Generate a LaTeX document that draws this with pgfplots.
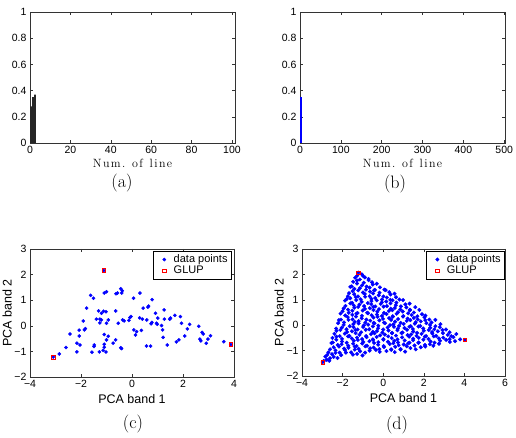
\documentclass[border=0pt]{standalone}
\usepackage{fontspec}
\usepackage{pgfplots}
\pgfplotsset{compat=1.18}
\newfontfamily\hv{Liberation Sans}
\newcommand{\ticksize}{\hv\fontsize{10.5}{12}\selectfont}
\newcommand{\ls}{\kern1.4pt}
\pgfplotsset{
 mat/.style={scale only axis, anchor=south west,
   axis line style={black!80,line width=0.8pt},
   tick style={black!80,line width=0.5pt}, major tick length=3pt,
   tick align=inside, tick pos=both,
   tick label style={font=\ticksize},
   /pgf/number format/assume math mode=true},
 pca/.style={mat, label style={font=\hv\fontsize{12.5}{14}\selectfont},
   xlabel={PCA band 1}, ylabel={PCA band 2}, ylabel shift=-4pt,
   ymin=-2, ymax=3, ytick={-2,-1,0,1,2,3}, yticklabels={−2,−1,0,1,2,3},
   legend cell align=left,
   legend image code/.code={\path (0cm,0cm) (0.55cm,0cm);
     \draw[##1] plot coordinates {(0.3cm,0cm)};},
   legend style={at={(rel axis cs:0.99,0.985)}, anchor=north east,
     font=\hv\fontsize{11}{13}\selectfont, draw=black, line width=0.8pt,
     inner xsep=2pt, inner ysep=1.5pt, row sep=-2pt}},
 bars/.style={mat, ymin=0, ymax=1, ytick={0,0.2,0.4,0.6,0.8,1},
   yticklabels={0,0.2,0.4,0.6,0.8,1},
   xlabel={N\ls u\ls m\ls .\ls\ \ls o\ls f\ls\ \ls l\ls i\ls n\ls e},
   xlabel style={font=\fontsize{12}{14}\selectfont, yshift=2pt}},
}
\begin{document}
\begin{tikzpicture}[x=1pt,y=1pt]
\useasboundingbox (0,0) rectangle (516,438);
% (a)
\begin{axis}[bars, at={(30pt,295pt)}, width=205pt, height=131pt,
  xmin=0, xmax=101.5, xtick={0,20,40,60,80,100}]
\addplot[ybar, bar width=0.82, fill=black!85, draw=none]
  coordinates {(0.5,0.28) (1.5,0.35) (2.5,0.37)};
\end{axis}
% (b)
\begin{axis}[bars, at={(300pt,295pt)}, width=205pt, height=131pt,
  xmin=0, xmax=502, xtick={0,100,200,300,400,500}]
\addplot[ybar, bar width=1, fill=blue, draw=blue, line width=0.5pt]
  coordinates {(1,0.35) (2,0.35) (3,0.35)};
\end{axis}
% (c)
\begin{axis}[pca, at={(30pt,61pt)}, width=204pt, height=128pt,
  xmin=-4, xmax=4, xtick={-4,-2,0,2,4}, xticklabels={−4,−2,0,2,4}]
\addplot[only marks, mark=*, mark size=1.6pt, blue, line width=0.4pt] coordinates {
(-3.09,-1.22) (-1.11,2.16) (3.87,-0.73)
(-2.85,-1.10) (-2.59,-0.85) (-2.43,-0.32) (-2.16,-1.02) (-2.16,-0.68)
(-2.04,-0.75) (-2.07,-0.40) (-2.07,-0.17) (-1.87,-0.16) (-1.83,-0.11)
(-1.91,0.19) (-1.78,0.69) (-1.62,1.19) (-1.51,1.08) (-1.57,-1.03)
(-1.49,-0.81) (-1.48,-0.75) (-1.28,-1.02) (-1.40,0.26) (-1.31,0.58)
(-1.26,0.26) (-1.26,0.11) (-1.20,0.23) (-1.20,0.49) (-1.12,0.57)
(-1.02,0.55) (-1.09,1.28) (-1.00,1.33) (-1.13,-0.96) (-1.02,-1.02)
(-1.09,-0.72) (-1.09,-0.84) (-1.09,-0.34) (-1.00,-0.55) (-0.93,-0.41)
(-0.93,0.23) (-1.00,0.10) (-0.74,-0.68) (-0.64,-0.55) (-0.64,0.58)
(-0.63,1.25) (-0.57,1.28) (-0.54,0.10) (-0.44,1.45) (-0.38,1.37)
(-0.40,1.28) (-0.37,0.23) (-0.44,-0.86) (-0.41,-0.89) (-0.31,0.19)
(-0.12,0.21) (-0.04,0.36) (-0.08,0.32) (0.06,1.08) (0.07,-0.16)
(0.14,-0.36) (0.18,-0.23) (0.30,0.31) (0.31,1.28) (0.37,-0.18)
(0.44,0.69) (0.41,0.26) (0.58,0.23) (0.57,-0.79) (0.73,-0.79)
(0.62,0.73) (0.65,0.77) (0.79,1.02) (0.75,0.08) (0.78,0.13)
(0.92,0.49) (0.96,0.10) (1.01,0.30) (0.99,0.06) (1.16,0.01)
(1.20,-0.16) (1.22,-0.45) (1.26,0.62) (1.27,0.26) (1.38,-0.75)
(1.48,0.26) (1.51,0.30) (1.68,0.41) (1.74,-0.63) (1.84,-0.55)
(1.90,0.36) (1.94,0.10) (2.07,-0.40) (2.17,-0.12) (2.26,0.06)
(2.62,-0.02) (2.66,-0.52) (2.70,-0.59) (2.75,-0.26) (2.79,-0.32)
(2.91,-0.68) (2.98,-0.52) (3.08,-0.39) (3.60,-0.62)
};
\addlegendentry{data points}
\addplot[only marks, mark=square, mark size=1.8pt, red, line width=0.6pt]
  coordinates {(-3.09,-1.22) (-1.11,2.16) (3.87,-0.73)};
\addlegendentry{GLUP}
\end{axis}
% (d)
\begin{axis}[pca, at={(302pt,62pt)}, width=203pt, height=127pt,
  xmin=-4, xmax=6, xtick={-4,-2,0,2,4,6}, xticklabels={−4,−2,0,2,4,6},
  legend style={at={(rel axis cs:1,0.985)}}]
\addplot[only marks, mark=*, mark size=1.8pt, blue, line width=0.4pt] coordinates {
(-2.98,-1.45) (-1.22,2.07) (4.02,-0.58)
(-2.93,-1.41) (-2.78,-1.36) (-2.66,-1.40)
(-2.85,-1.24) (-2.62,-1.30) (-2.44,-1.25) (-2.25,-1.29)
(-2.76,-1.17) (-2.52,-1.14) (-2.35,-1.09) (-2.07,-1.18) (-1.84,-1.08) (-1.49,-1.16) (-1.29,-1.13) (-1.02,-1.19)
(-2.70,-1.07) (-2.35,-0.99) (-2.15,-1.08) (-1.88,-0.98) (-1.58,-1.07) (-1.40,-0.96) (-1.14,-1.03) (-0.89,-1.08) (-0.67,-1.00) (-0.36,-0.97) (-0.17,-1.05) (0.16,-1.02) (0.40,-0.97) (0.57,-1.06) (0.85,-0.96) (1.08,-1.04)
(-2.62,-0.95) (-2.44,-0.87) (-2.18,-0.84) (-1.93,-0.92) (-1.71,-0.89) (-1.40,-0.84) (-1.21,-0.93) (-0.88,-0.83) (-0.64,-0.91) (-0.47,-0.88) (-0.19,-0.94) (0.04,-0.86) (0.39,-0.95) (0.59,-0.85) (0.86,-0.94) (1.16,-0.83) (1.34,-0.90) (1.60,-0.95) (1.85,-0.87) (2.07,-0.84)
(-2.55,-0.70) (-2.24,-0.78) (-2.05,-0.75) (-1.72,-0.81) (-1.48,-0.73) (-1.31,-0.82) (-1.03,-0.72) (-0.80,-0.81) (-0.45,-0.70) (-0.25,-0.77) (0.02,-0.82) (0.32,-0.74) (0.50,-0.71) (0.76,-0.79) (1.01,-0.76) (1.23,-0.71) (1.54,-0.80) (1.73,-0.70) (2.06,-0.78) (2.30,-0.75) (2.47,-0.81) (2.75,-0.73)
(-2.48,-0.68) (-2.31,-0.57) (-2.03,-0.64) (-1.80,-0.69) (-1.45,-0.61) (-1.25,-0.58) (-0.98,-0.66) (-0.68,-0.63) (-0.50,-0.58) (-0.24,-0.67) (0.01,-0.57) (0.23,-0.65) (0.54,-0.62) (0.73,-0.68) (1.06,-0.60) (1.30,-0.69) (1.47,-0.59) (1.75,-0.68) (1.98,-0.57) (2.33,-0.64) (2.53,-0.69) (2.80,-0.61) (3.10,-0.58) (3.28,-0.66) (3.54,-0.63)
(-2.50,-0.50) (-2.30,-0.45) (-2.03,-0.54) (-1.73,-0.44) (-1.55,-0.52) (-1.29,-0.49) (-1.04,-0.55) (-0.82,-0.47) (-0.51,-0.56) (-0.32,-0.46) (0.01,-0.55) (0.25,-0.44) (0.42,-0.51) (0.70,-0.56) (0.93,-0.48) (1.28,-0.45) (1.48,-0.53) (1.75,-0.50) (2.05,-0.45) (2.23,-0.54) (2.49,-0.44) (2.74,-0.52) (2.96,-0.49) (3.27,-0.55) (3.46,-0.47) (3.79,-0.56)
(-2.40,-0.34) (-2.14,-0.43) (-1.89,-0.33) (-1.67,-0.42) (-1.36,-0.31) (-1.17,-0.38) (-0.84,-0.43) (-0.60,-0.35) (-0.43,-0.32) (-0.15,-0.40) (0.08,-0.37) (0.43,-0.32) (0.63,-0.41) (0.90,-0.31) (1.20,-0.39) (1.38,-0.36) (1.64,-0.42) (1.89,-0.34) (2.11,-0.43) (2.42,-0.33) (2.61,-0.42) (2.94,-0.31) (3.18,-0.38) (3.35,-0.43) (3.60,-0.35)
(-2.30,-0.22) (-2.11,-0.19) (-1.78,-0.27) (-1.54,-0.24) (-1.37,-0.19) (-1.09,-0.28) (-0.86,-0.18) (-0.51,-0.26) (-0.31,-0.23) (-0.04,-0.29) (0.26,-0.21) (0.44,-0.30) (0.70,-0.20) (0.95,-0.29) (1.17,-0.18) (1.48,-0.25) (1.67,-0.30) (2.00,-0.22) (2.24,-0.19) (2.41,-0.27) (2.69,-0.24) (2.92,-0.19) (3.27,-0.28)
(-2.32,-0.13) (-2.04,-0.10) (-1.81,-0.16) (-1.46,-0.08) (-1.26,-0.17) (-0.99,-0.07) (-0.69,-0.16) (-0.51,-0.05) (-0.25,-0.12) (0.00,-0.17) (0.22,-0.09) (0.53,-0.06) (0.72,-0.14) (1.05,-0.11) (1.29,-0.06) (1.46,-0.15) (1.74,-0.05) (1.97,-0.13) (2.32,-0.10) (2.52,-0.16) (2.79,-0.08) (3.09,-0.17)
(-2.22,0.08) (-1.95,0.01) (-1.65,-0.04) (-1.47,0.04) (-1.21,0.07) (-0.96,-0.01) (-0.74,0.02) (-0.43,0.07) (-0.24,-0.02) (0.09,0.08) (0.33,0.00) (0.50,0.03) (0.78,-0.03) (1.01,0.05) (1.36,-0.04) (1.56,0.06) (1.83,-0.03) (2.13,0.08) (2.31,0.01) (2.57,-0.04) (2.82,0.04)
(-2.18,0.20) (-1.93,0.11) (-1.71,0.21) (-1.40,0.13) (-1.21,0.16) (-0.88,0.10) (-0.64,0.18) (-0.47,0.09) (-0.19,0.19) (0.04,0.10) (0.39,0.21) (0.59,0.14) (0.86,0.09) (1.16,0.17) (1.34,0.20) (1.60,0.12) (1.85,0.15) (2.07,0.20) (2.38,0.11) (2.57,0.21)
(-2.08,0.22) (-1.75,0.32) (-1.51,0.23) (-1.34,0.34) (-1.06,0.27) (-0.83,0.22) (-0.48,0.30) (-0.28,0.33) (-0.01,0.25) (0.29,0.28) (0.47,0.33) (0.73,0.24) (0.98,0.34) (1.20,0.26) (1.51,0.29) (1.70,0.23) (2.03,0.31) (2.27,0.22)
(-2.10,0.46) (-1.87,0.38) (-1.52,0.41) (-1.32,0.46) (-1.05,0.37) (-0.75,0.47) (-0.57,0.39) (-0.31,0.42) (-0.06,0.36) (0.16,0.44) (0.47,0.35) (0.66,0.45) (0.99,0.36) (1.23,0.47) (1.40,0.40) (1.68,0.35) (1.91,0.43) (2.08,0.38)
(-2.00,0.55) (-1.70,0.49) (-1.52,0.57) (-1.26,0.48) (-1.01,0.58) (-0.79,0.49) (-0.48,0.60) (-0.29,0.53) (0.04,0.48) (0.28,0.56) (0.45,0.59) (0.73,0.51) (0.96,0.54) (1.31,0.59) (1.51,0.50) (1.78,0.60)
(-1.95,0.66) (-1.73,0.61) (-1.42,0.69) (-1.23,0.72) (-0.90,0.64) (-0.66,0.67) (-0.49,0.72) (-0.21,0.63) (0.02,0.73) (0.37,0.65) (0.57,0.68) (0.84,0.62) (1.14,0.70) (1.32,0.61) (1.58,0.71)
(-1.86,0.76) (-1.62,0.86) (-1.45,0.78) (-1.17,0.81) (-0.94,0.75) (-0.59,0.83) (-0.39,0.74) (-0.12,0.84) (0.18,0.75) (0.36,0.86) (0.62,0.79) (0.87,0.74) (1.09,0.82) (1.30,0.85)
(-1.88,0.97) (-1.53,0.88) (-1.33,0.99) (-1.06,0.92) (-0.76,0.87) (-0.58,0.95) (-0.32,0.98) (-0.07,0.90) (0.15,0.93) (0.46,0.98) (0.65,0.89) (0.98,0.99)
(-1.80,1.03) (-1.62,1.06) (-1.36,1.11) (-1.11,1.02) (-0.89,1.12) (-0.58,1.04) (-0.39,1.07) (-0.06,1.01) (0.18,1.09) (0.35,1.00) (0.63,1.10) (0.80,1.01)
(-1.74,1.14) (-1.43,1.22) (-1.24,1.13) (-0.91,1.23) (-0.67,1.14) (-0.50,1.25) (-0.22,1.18) (0.01,1.13) (0.36,1.21) (0.56,1.24)
(-1.68,1.26) (-1.51,1.34) (-1.23,1.37) (-1.00,1.29) (-0.65,1.32) (-0.45,1.37) (-0.18,1.28) (0.12,1.38) (0.30,1.30)
(-1.62,1.51) (-1.42,1.43) (-1.15,1.46) (-0.85,1.40) (-0.67,1.48) (-0.41,1.39) (-0.16,1.49) (0.06,1.40)
(-1.55,1.53) (-1.29,1.64) (-1.04,1.57) (-0.82,1.52) (-0.51,1.60) (-0.32,1.63)
(-1.48,1.71) (-1.29,1.76) (-0.96,1.67) (-0.72,1.77) (-0.55,1.69)
(-1.38,1.87) (-1.15,1.80) (-0.90,1.88) (-0.72,1.82)
(-1.28,1.95) (-1.05,2.00) (-0.98,1.93)
};
\addlegendentry{data points}
\addplot[only marks, mark=square, mark size=1.8pt, red, line width=0.6pt]
  coordinates {(-2.98,-1.45) (-1.22,2.07) (4.02,-0.58)};
\addlegendentry{GLUP}
\end{axis}
% captions
\node[font=\fontsize{18}{21}\selectfont] at (122,255) {(a)};
\node[font=\fontsize{18}{21}\selectfont] at (395,254) {(b)};
\node[font=\fontsize{18}{21}\selectfont] at (133,14) {(c)};
\node[font=\fontsize{18}{21}\selectfont] at (397,13) {(d)};
\end{tikzpicture}
\end{document}
